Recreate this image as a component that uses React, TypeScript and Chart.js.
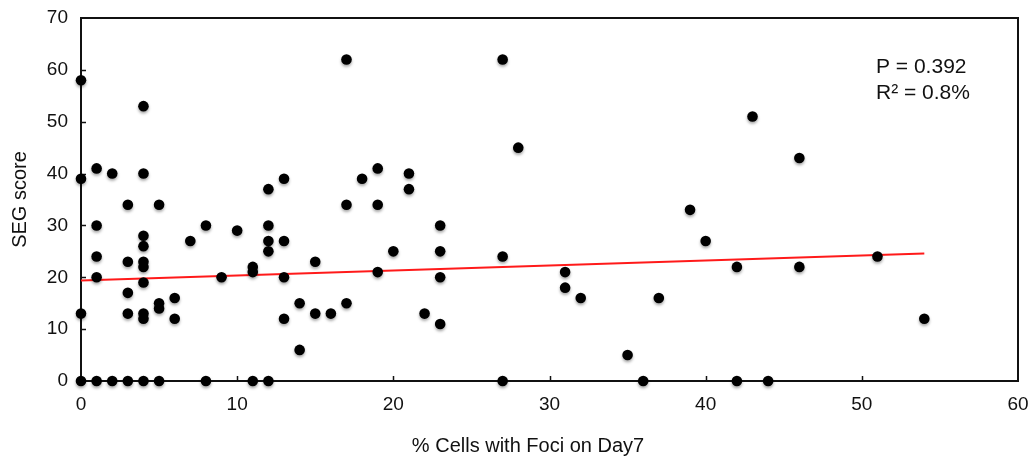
import React, { useEffect, useRef } from "react";
import { Chart, registerables } from "chart.js";

Chart.register(...registerables);

// % Cells with Foci on Day7
const xValues = [
  0, 0, 0, 0,
  1, 1, 1, 1, 1,
  2, 2,
  3, 3, 3, 3, 3,
  4, 4, 4, 4, 4, 4, 4, 4, 4, 4,
  5, 5, 5, 5,
  6, 6,
  7,
  8, 8,
  9,
  10,
  11, 11, 11,
  12, 12, 12, 12, 12,
  13, 13, 13, 13,
  14, 14,
  15, 15,
  16,
  17, 17, 17,
  18,
  19, 19, 19,
  20,
  21, 21,
  22,
  23, 23, 23, 23,
  27, 27, 27,
  28,
  31, 31,
  32,
  35,
  36,
  37,
  39,
  40,
  42, 42,
  43,
  44,
  46, 46,
  51,
  54,
];

// SEG score
const yValues = [
  58, 39, 13, 0,
  41, 30, 24, 20, 0,
  40, 0,
  34, 23, 17, 13, 0,
  53, 40, 28, 26, 23, 22, 19, 13, 12, 0,
  34, 15, 14, 0,
  16, 12,
  27,
  30, 0,
  20,
  29,
  22, 21, 0,
  37, 30, 27, 25, 0,
  39, 27, 20, 12,
  15, 6,
  23, 13,
  13,
  62, 34, 15,
  39,
  41, 34, 21,
  25,
  40, 37,
  13,
  30, 25, 20, 11,
  62, 24, 0,
  45,
  21, 18,
  16,
  5,
  0,
  16,
  33,
  27,
  22, 0,
  51,
  0,
  43, 22,
  24,
  12,
];

// Regression line end points
const trendX = [0, 54];
const trendY = [19.4, 24.6];

const xTicks = [0, 10, 20, 30, 40, 50, 60];
const yTicks = [0, 10, 20, 30, 40, 50, 60, 70];

const xTitle = "% Cells with Foci on Day7";
const yTitle = "SEG score";
const statLines = ["P = 0.392", "R\u00B2 = 0.8%"];

const FONT = "'Liberation Sans', Arial, Helvetica, sans-serif";
const INK = "#111111";

const framePlugin = {
  id: "framePlugin",
  beforeDatasetDraw(chart: any, args: any) {
    if (args.index === 0) {
      const ctx = chart.ctx;
      ctx.save();
      ctx.shadowColor = "rgba(0,0,0,0.35)";
      ctx.shadowBlur = 3;
      ctx.shadowOffsetX = 0;
      ctx.shadowOffsetY = 2;
    }
  },
  afterDatasetDraw(chart: any, args: any) {
    if (args.index === 0) {
      chart.ctx.restore();
    }
  },
  beforeDatasetsDraw(chart: any) {
    const { ctx, chartArea, scales } = chart;
    const { left, right, top, bottom } = chartArea;
    ctx.save();
    ctx.strokeStyle = INK;
    ctx.lineWidth = 2;
    ctx.strokeRect(left, top, right - left, bottom - top);
    ctx.lineWidth = 1.5;
    ctx.beginPath();
    xTicks.forEach((v) => {
      if (v === xTicks[0] || v === xTicks[xTicks.length - 1]) return;
      const px = Math.round(scales.x.getPixelForValue(v)) + 0.5;
      ctx.moveTo(px, bottom);
      ctx.lineTo(px, bottom - 5);
    });
    yTicks.forEach((v) => {
      if (v === yTicks[0] || v === yTicks[yTicks.length - 1]) return;
      const py = Math.round(scales.y.getPixelForValue(v)) + 0.5;
      ctx.moveTo(left, py);
      ctx.lineTo(left + 5, py);
    });
    ctx.stroke();
    ctx.restore();
  },
  afterDraw(chart: any) {
    const { ctx } = chart;
    ctx.save();
    ctx.fillStyle = INK;
    ctx.textBaseline = "alphabetic";
    ctx.textAlign = "left";
    ctx.font = `21px ${FONT}`;
    ctx.fillText(statLines[0], 876, 73);
    ctx.fillText(statLines[1], 876, 99);
    ctx.textAlign = "center";
    ctx.font = `20px ${FONT}`;
    ctx.fillText(xTitle, 528, 452);
    ctx.restore();
  },
};

function zeroPadding(scale: any) {
  scale.paddingLeft = 0;
  scale.paddingRight = 0;
  scale.paddingTop = 0;
  scale.paddingBottom = 0;
}

export default function App() {
  const canvasRef = useRef<HTMLCanvasElement | null>(null);

  useEffect(() => {
    const canvas = canvasRef.current;
    if (!canvas) return;
    const points = xValues.map((x, i) => ({ x, y: yValues[i] }));
    const trend = trendX.map((x, i) => ({ x, y: trendY[i] }));
    const chart = new Chart(canvas, {
      type: "scatter",
      data: {
        datasets: [
          {
            label: "SEG score",
            data: points,
            backgroundColor: "#000000",
            borderWidth: 0,
            pointRadius: 5.3,
            pointHoverRadius: 5.3,
            clip: false,
            order: 0,
          } as any,
          {
            label: "Fit",
            type: "line",
            data: trend,
            borderColor: "#ff1a1a",
            borderWidth: 2,
            pointRadius: 0,
            showLine: true,
            fill: false,
            clip: false,
            order: 1,
          } as any,
        ],
      },
      options: {
        responsive: false,
        animation: false,
        events: [],
        layout: { padding: { top: 18, right: 11, left: 0, bottom: 0 } },
        plugins: {
          legend: { display: false },
          tooltip: { enabled: false },
        },
        scales: {
          x: {
            type: "linear",
            min: 0,
            max: 60,
            afterFit(scale: any) {
              scale.height = 77;
              zeroPadding(scale);
            },
            afterBuildTicks(scale: any) {
              scale.ticks = xTicks.map((v) => ({ value: v }));
            },
            grid: { display: false, drawTicks: false },
            border: { display: false },
            ticks: {
              padding: 12,
              color: INK,
              font: { family: FONT, size: 19 },
              maxRotation: 0,
            },
          },
          y: {
            type: "linear",
            min: 0,
            max: 70,
            afterFit(scale: any) {
              scale.width = 81;
              zeroPadding(scale);
            },
            afterBuildTicks(scale: any) {
              scale.ticks = yTicks.map((v) => ({ value: v }));
            },
            grid: { display: false, drawTicks: false },
            border: { display: false },
            ticks: {
              padding: 13,
              color: INK,
              font: { family: FONT, size: 19 },
            },
            title: {
              display: true,
              text: yTitle,
              color: INK,
              font: { family: FONT, size: 20 },
              padding: { top: 8, bottom: 0 },
            },
          },
        },
      },
      plugins: [framePlugin],
    });
    return () => chart.destroy();
  }, []);

  return (
    <div style={{ position: "absolute", left: 0, top: 0, width: 1029, height: 458, background: "#ffffff" }}>
      <canvas ref={canvasRef} width={1029} height={458} style={{ display: "block" }} />
    </div>
  );
}
